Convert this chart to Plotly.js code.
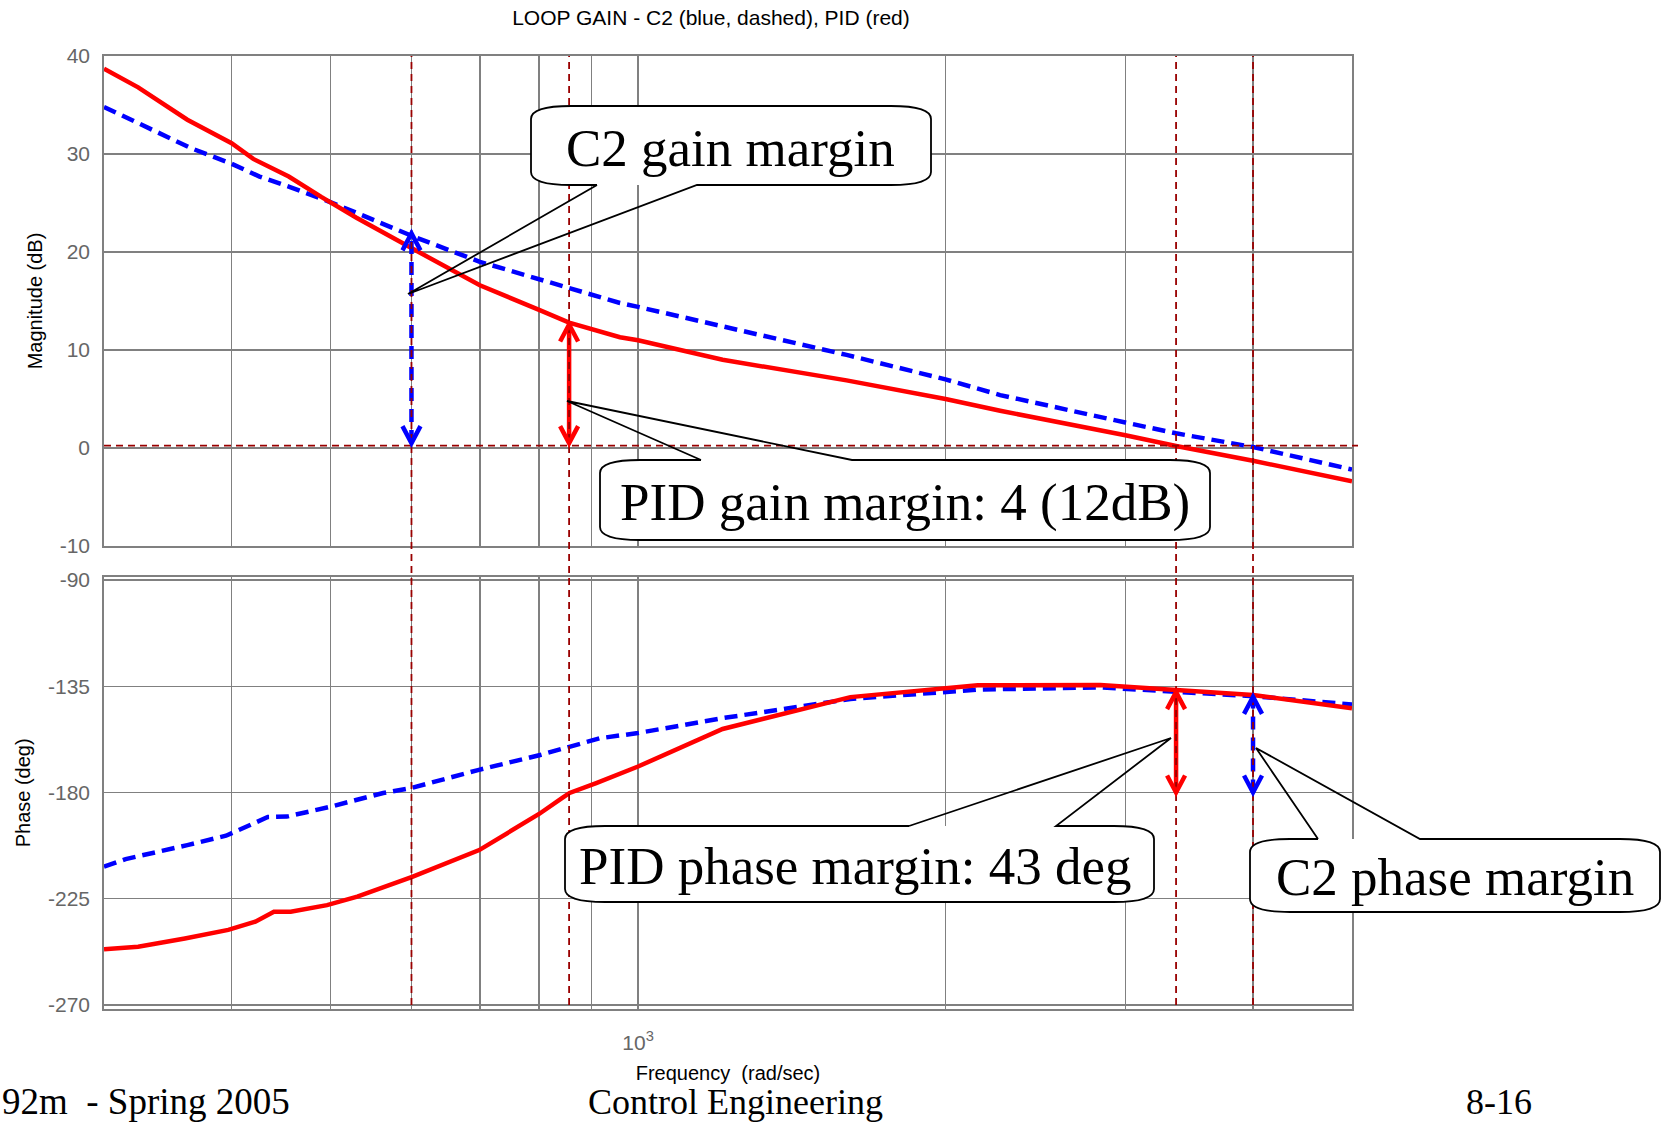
<!DOCTYPE html>
<html>
<head>
<meta charset="utf-8">
<script src="https://cdn.plot.ly/plotly-3.0.1.min.js"></script>
<style>html,body{margin:0;padding:0;background:#fff}#chart{width:1666px;height:1123px}</style>
</head>
<body>
<div id="chart"></div>
<script>
// ---------------- data ----------------
const magFreqPID = [300,324,362,400,420,455,490,530,600,680,700,800,856,960,1000,1210,1600,2000,2262,3000,3363,4000,5000];
const magPID     = [38.7,36.8,33.5,31.1,29.5,27.7,25.6,23.5,20.4,17.3,16.6,14.1,12.8,11.3,11.0,9.0,6.9,5.0,3.8,1.3,0.2,-1.3,-3.4];
const magFreqC2  = [300,365,400,426,457,494,530,559,602,700,800,857,960,1000,1210,1600,2000,2262,3000,3363,4000,5000];
const magC2      = [34.8,30.6,29.0,27.7,26.6,25.3,24.0,23.0,21.6,19.0,17.2,16.3,14.8,14.4,12.4,9.5,7.0,5.4,2.6,1.5,0.1,-2.2];
const phFreqPID  = [300,324,360,397,422,440,457,496,531,601,699,800,843,857,910,1000,1210,1614,2150,2835,3363,4000,5000];
const phPID      = [-246.4,-245.3,-241.8,-238.2,-234.7,-230.5,-230.5,-227.7,-224.1,-215.7,-204.4,-189.1,-182.3,-180.2,-176.0,-169.0,-153.1,-139.6,-134.6,-134.5,-136.6,-138.7,-144.3];
const phFreqC2   = [300,315,362,395,434,453,498,563,601,697,802,857,918,1000,1210,1614,2150,2835,3363,4000,5000];
const phC2       = [-211.4,-208.2,-202.3,-198.3,-190.4,-190.2,-186.2,-180.2,-178.0,-170.5,-164.1,-160.6,-157.0,-154.8,-148.5,-140.4,-136.4,-135.5,-137.3,-139.2,-142.7];

// margin markers: [C2, PID] gain margins at phase crossover, [PID, C2] phase margins at gain crossover
const gmFreq   = [600, 856];
const gmTop    = [21.9, 12.6];
const gmBottom = [0.5, 0.5];
const pmFreq   = [3363, 4000];
const pmTop    = [-137.5, -139.5];
const pmBottom = [-180, -180];
const zeroDbLine = 0.25;
const markerFreqs = [600, 856, 3363, 4000];

// ticks
const xGridVals  = [300,400,500,600,700,800,900,2000,3000,4000,5000];
const xTickVals  = [1000];
const xTickText  = ['10<sup>3</sup>'];
const magTicks   = [-10,0,10,20,30,40];
const phaseTicks = [-270,-225,-180,-135,-90];

// texts
const titleText = 'LOOP GAIN - C2 (blue, dashed), PID (red)';
const calloutTexts = ['C2 gain margin','PID gain margin: 4 (12dB)','PID phase margin: 43 deg','C2 phase margin'];
const footerTexts = ['92m\u00a0 - Spring 2005','Control Engineering','8-16'];

// ---------------- layout geometry ----------------
const W = 1666, H = 1123;
const PL = 104, PR = 1352, PT = 56, PB = 1009;
const px = X => +((X - PL) / (PR - PL)).toFixed(5);
const py = Y => +((PB - Y) / (PB - PT)).toFixed(5);
const P = (X, Y) => px(X) + ',' + py(Y);

const RED = '#ff0000', BLUE = '#0000ff', DRED = '#990000', GRID = '#808080', TICKC = '#666666';

const traces = [
  {x: magFreqC2, y: magC2, xaxis:'x', yaxis:'y', mode:'lines', line:{color:BLUE, width:4.5, dash:'13px,7px'}},
  {x: magFreqPID, y: magPID, xaxis:'x', yaxis:'y', mode:'lines', line:{color:RED, width:4.5}},
  {x: phFreqC2, y: phC2, xaxis:'x2', yaxis:'y2', mode:'lines', line:{color:BLUE, width:4.5, dash:'13px,7px'}},
  {x: phFreqPID, y: phPID, xaxis:'x2', yaxis:'y2', mode:'lines', line:{color:RED, width:4.5}},
  // arrow shafts
  {x: [gmFreq[0], gmFreq[0]], y: [gmBottom[0], gmTop[0]], xaxis:'x', yaxis:'y', mode:'lines', line:{color:BLUE, width:4.5, dash:'13px,8px'}},
  {x: [gmFreq[1], gmFreq[1]], y: [gmBottom[1], gmTop[1]], xaxis:'x', yaxis:'y', mode:'lines', line:{color:RED, width:4.5}},
  {x: [pmFreq[0], pmFreq[0]], y: [pmBottom[0], pmTop[0]], xaxis:'x2', yaxis:'y2', mode:'lines', line:{color:RED, width:4.5}},
  {x: [pmFreq[1], pmFreq[1]], y: [pmBottom[1], pmTop[1]], xaxis:'x2', yaxis:'y2', mode:'lines', line:{color:BLUE, width:4.5, dash:'13px,8px'}}
];
traces.forEach(t => { t.showlegend = false; t.hoverinfo = 'skip'; });

const shapes = [];
// vertical dashed marker lines through both panels
markerFreqs.forEach(f => shapes.push({type:'line', xref:'x', yref:'paper', x0:f, x1:f, y0:py(1005), y1:1,
  line:{color:DRED, width:1.8, dash:'7px,5px'}}));
// 0 dB dashed line
shapes.push({type:'line', xref:'paper', yref:'y', x0:0, x1:px(1358), y0:zeroDbLine, y1:zeroDbLine,
  line:{color:DRED, width:1.8, dash:'7px,5px'}});
// chevron arrow heads
function chevron(xr, yr, f, v, up, color) {
  return {type:'path', xref:xr, yref:yr, xsizemode:'pixel', ysizemode:'pixel', xanchor:f, yanchor:v,
    path: up ? 'M-9,-17L0,0L9,-17' : 'M-9,17L0,0L9,17', line:{color:color, width:4.5}};
}
shapes.push(chevron('x','y',gmFreq[0],gmTop[0],true,BLUE));
shapes.push(chevron('x','y',gmFreq[0],gmBottom[0],false,BLUE));
shapes.push(chevron('x','y',gmFreq[1],gmTop[1],true,RED));
shapes.push(chevron('x','y',gmFreq[1],gmBottom[1],false,RED));
shapes.push(chevron('x2','y2',pmFreq[0],pmTop[0],true,RED));
shapes.push(chevron('x2','y2',pmFreq[0],pmBottom[0],false,RED));
shapes.push(chevron('x2','y2',pmFreq[1],pmTop[1],true,BLUE));
shapes.push(chevron('x2','y2',pmFreq[1],pmBottom[1],false,BLUE));

// callout bubbles (pixel geometry)
const bubbles = [
  {x0:531, x1:931, y0:106, y1:185, side:'bottom', a:597, c:697, tx:408, ty:294, cx:731, cy:148},
  {x0:600, x1:1210, y0:460, y1:540, side:'top', a:701, c:852, tx:567, ty:401, cx:905, cy:502},
  {x0:565, x1:1154, y0:826, y1:902, side:'top', a:909, c:1056, tx:1171, ty:738, cx:856, cy:866},
  {x0:1250, x1:1660, y0:839, y1:912, side:'top', a:1318, c:1420, tx:1256, ty:748, cx:1455, cy:877}
];
const RX = 40, RY = 13;
function bodyPath(b) {
  const {x0,x1,y0,y1} = b;
  return 'M' + P(x0, y0+RY) + ' Q' + P(x0,y0) + ' ' + P(x0+RX,y0) + ' L' + P(x1-RX,y0) +
    ' Q' + P(x1,y0) + ' ' + P(x1,y0+RY) + ' L' + P(x1,y1-RY) + ' Q' + P(x1,y1) + ' ' + P(x1-RX,y1) +
    ' L' + P(x0+RX,y1) + ' Q' + P(x0,y1) + ' ' + P(x0,y1-RY) + ' Z';
}
function outlinePath(b) {
  const {x0,x1,y0,y1,a,c,tx,ty} = b;
  if (b.side === 'top') {
    return 'M' + P(a,y0) + ' L' + P(x0+RX,y0) + ' Q' + P(x0,y0) + ' ' + P(x0,y0+RY) + ' L' + P(x0,y1-RY) +
      ' Q' + P(x0,y1) + ' ' + P(x0+RX,y1) + ' L' + P(x1-RX,y1) + ' Q' + P(x1,y1) + ' ' + P(x1,y1-RY) +
      ' L' + P(x1,y0+RY) + ' Q' + P(x1,y0) + ' ' + P(x1-RX,y0) + ' L' + P(c,y0) + ' L' + P(tx,ty) + ' L' + P(a,y0);
  }
  return 'M' + P(a,y1) + ' L' + P(x0+RX,y1) + ' Q' + P(x0,y1) + ' ' + P(x0,y1-RY) + ' L' + P(x0,y0+RY) +
    ' Q' + P(x0,y0) + ' ' + P(x0+RX,y0) + ' L' + P(x1-RX,y0) + ' Q' + P(x1,y0) + ' ' + P(x1,y0+RY) +
    ' L' + P(x1,y1-RY) + ' Q' + P(x1,y1) + ' ' + P(x1-RX,y1) + ' L' + P(c,y1) + ' L' + P(tx,ty) + ' L' + P(a,y1);
}
bubbles.forEach(b => {
  shapes.push({type:'path', xref:'paper', yref:'paper', path: bodyPath(b), fillcolor:'#ffffff', line:{width:0}});
  shapes.push({type:'path', xref:'paper', yref:'paper', path: outlinePath(b), fillcolor:'rgba(0,0,0,0)', line:{color:'#000000', width:1.8}});
});

const annotations = [];
bubbles.forEach((b, i) => annotations.push({xref:'paper', yref:'paper', x:px(b.cx), y:py(b.cy), xanchor:'center', yanchor:'middle',
  showarrow:false, text: calloutTexts[i], font:{family:'Liberation Serif, Times New Roman, serif', size:53, color:'#000'}}));
const SERIF = 'Liberation Serif, Times New Roman, serif';
annotations.push({xref:'paper', yref:'paper', x:px(1), y:py(1123), xanchor:'left', yanchor:'bottom', showarrow:false,
  text: footerTexts[0], font:{family:SERIF, size:37, color:'#000'}, borderpad:0});
annotations.push({xref:'paper', yref:'paper', x:px(736), y:py(1123), xanchor:'center', yanchor:'bottom', showarrow:false,
  text: footerTexts[1], font:{family:SERIF, size:36, color:'#000'}, borderpad:0});
annotations.push({xref:'paper', yref:'paper', x:px(1499), y:py(1123), xanchor:'center', yanchor:'bottom', showarrow:false,
  text: footerTexts[2], font:{family:SERIF, size:36, color:'#000'}, borderpad:0});

const xCommon = {type:'log', range:[Math.log10(300), Math.log10(5000)], tickmode:'array', tickvals:xTickVals, ticktext:xTickText,
  showgrid:true, gridcolor:GRID, gridwidth:1.3, showline:true, mirror:true, linecolor:GRID, linewidth:1.8,
  ticks:'', zeroline:false,
  minor:{tickmode:'array', tickvals:xGridVals, showgrid:true, gridcolor:GRID, gridwidth:1.3, ticks:''}};
const yCommon = {showgrid:true, gridcolor:GRID, gridwidth:1.3, showline:true, mirror:true, linecolor:GRID, linewidth:1.8,
  ticks:'', zeroline:false, tickfont:{size:21, color:TICKC}, ticklabelstandoff:8, tickmode:'array'};

const layout = {
  width: W, height: H,
  margin: {l:PL, r:W-PR, t:PT, b:H-PB},
  paper_bgcolor:'#ffffff', plot_bgcolor:'#ffffff',
  font: {family:'Liberation Sans, Arial, sans-serif', color:'#000'},
  showlegend:false,
  title: {text:titleText, font:{size:21, color:'#000'}, xref:'paper', x:px(711), xanchor:'center',
    yref:'container', y:1-18/H, yanchor:'middle'},
  xaxis: Object.assign({}, xCommon, {domain:[0,1], anchor:'y', showticklabels:false}),
  xaxis2: Object.assign({}, xCommon, {domain:[0,1], anchor:'y2', showticklabels:true,
    tickfont:{size:21, color:TICKC}, ticklabelstandoff:14,
    title:{text:'Frequency\u00a0 (rad/sec)', font:{size:20, color:'#000'}, standoff:13}}),
  yaxis: Object.assign({}, yCommon, {domain:[py(546),1], anchor:'x', range:[-10,40],
    tickvals:magTicks, ticktext:magTicks.map(String),
    title:{text:'Magnitude (dB)', font:{size:20, color:'#000'}, standoff:12}}),
  yaxis2: Object.assign({}, yCommon, {domain:[0,py(576.7)], anchor:'x2', range:[-271.7,-88.6],
    tickvals:phaseTicks, ticktext:phaseTicks.map(String),
    title:{text:'Phase (deg)', font:{size:20, color:'#000'}, standoff:12}}),
  shapes: shapes,
  annotations: annotations
};

Plotly.newPlot('chart', traces, layout, {staticPlot:true, displayModeBar:false});
</script>
</body>
</html>
